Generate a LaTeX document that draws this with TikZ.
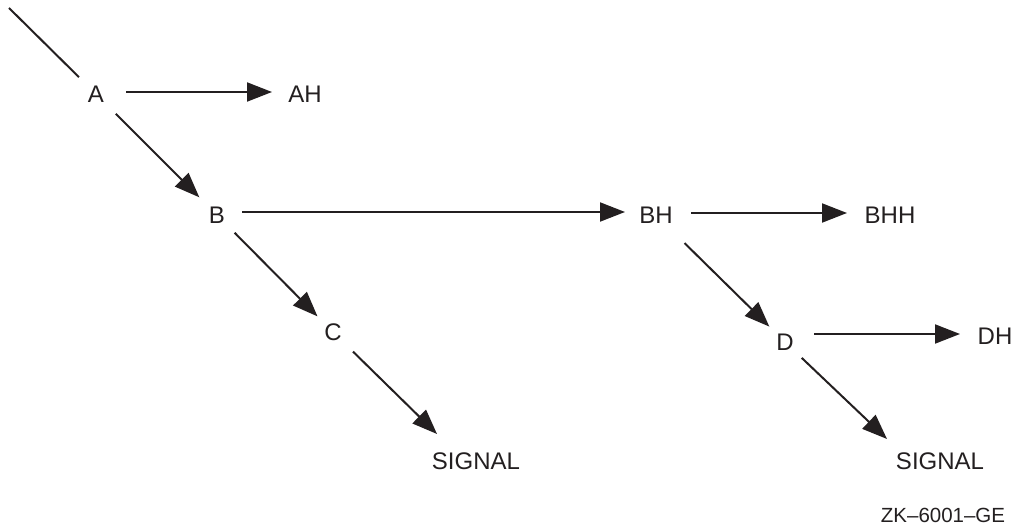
\documentclass[tikz,border=0pt]{standalone}
\usepackage{fontspec}
\setmainfont{Liberation Sans}
\usetikzlibrary{arrows.meta}
\definecolor{ink}{HTML}{231F20}
\begin{document}
\begin{tikzpicture}[x=1pt,y=-1pt,
  lbl/.style={inner sep=0pt,anchor=center,text=ink,font=\fontsize{24}{28}\selectfont},
  conn/.style={draw=ink,line width=2pt},
  arr/.style={conn,-{Triangle[length=25pt,width=19pt]}}]
\useasboundingbox (0,0) rectangle (1016,526);
\node[lbl] (A) at (96,94) {A};
\node[lbl] (AH) at (305,94) {AH};
\node[lbl] (B) at (217,215) {B};
\node[lbl] (BH) at (656,215) {BH};
\node[lbl] (BHH) at (890,215) {BHH};
\node[lbl] (C) at (333,332) {C};
\node[lbl] (S1) at (476,461) {SIGNAL};
\node[lbl] (D) at (785,342) {D};
\node[lbl] (DH) at (995,336) {DH};
\node[lbl] (S2) at (940,461) {SIGNAL};
\node[lbl,font=\fontsize{20.5}{24}\selectfont] (ZK) at (943,515) {ZK–6001–GE};
\coordinate (top) at (9,8);
\coordinate (s1) at (437,434);
\coordinate (s2) at (887,439);
\draw[conn,shorten >=24pt] (top) -- (A.center);
\draw[arr,shorten <=30pt,shorten >=33pt] ([yshift=2pt]A.center) -- ([yshift=2pt]AH.center);
\draw[arr,shorten <=28pt,shorten >=25pt] (A.center) -- (B.center);
\draw[arr,shorten <=25pt,shorten >=31pt] ([yshift=3pt]B.center) -- ([yshift=3pt]BH.center);
\draw[arr,shorten <=35pt,shorten >=43pt] ([yshift=2pt]BH.center) -- ([yshift=2pt]BHH.center);
\draw[arr,shorten <=25pt,shorten >=22pt] (B.center) -- (C.center);
\draw[arr,shorten <=28pt] (C.center) -- (s1);
\draw[arr,shorten <=40pt,shorten >=22pt] (BH.center) -- (D.center);
\draw[arr,shorten <=29pt,shorten >=35pt] ([yshift=2pt]D.center |- DH.center) -- ([yshift=2pt]DH.center);
\draw[arr,shorten <=23pt] (D.center) -- (s2);
\end{tikzpicture}
\end{document}
